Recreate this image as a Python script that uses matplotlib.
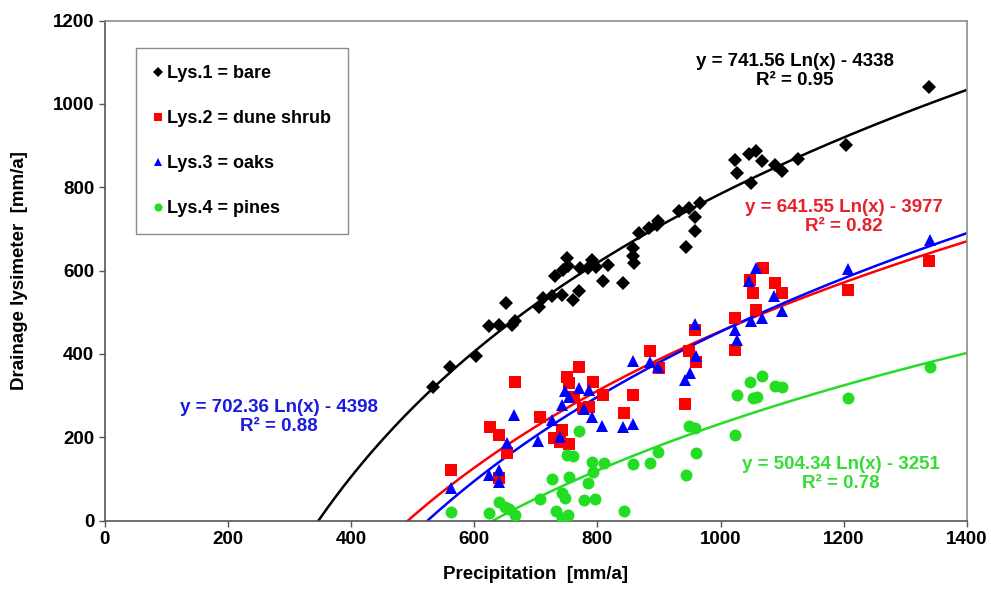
import numpy as np
import matplotlib
matplotlib.use("Agg")
import matplotlib.pyplot as plt

plt.rcParams['font.family'] = ['Liberation Sans', 'DejaVu Sans']
plt.rcParams['font.weight'] = 'bold'

# ---- data ----
bare_x = [533, 560, 603, 624, 640, 652, 662, 666, 705, 711, 727, 731, 743, 744, 750, 752,
          761, 770, 771, 785, 792, 798, 809, 817, 842, 857, 857, 859, 868, 884, 896, 898,
          933, 944, 949, 958, 958, 966, 1023, 1026, 1046, 1057, 1068, 1050, 1088, 1099,
          1126, 1204, 1339]
bare_y = [322, 368, 395, 466, 470, 522, 470, 478, 512, 534, 538, 586, 542, 602, 630, 610,
          530, 551, 606, 606, 626, 608, 574, 614, 571, 654, 635, 618, 690, 702, 710, 718,
          744, 656, 750, 728, 694, 763, 865, 834, 880, 886, 864, 811, 854, 838,
          867, 902, 1041]

shrub_x = [562, 625, 640, 653, 640, 666, 707, 730, 739, 743, 754, 750, 754, 770, 762, 777,
           787, 793, 809, 843, 857, 885, 900, 943, 949, 958, 960, 1023, 1023, 1047, 1052,
           1057, 1069, 1088, 1100, 1207, 1339]
shrub_y = [122, 226, 206, 162, 102, 334, 248, 198, 190, 218, 184, 346, 330, 368, 296, 270,
           272, 334, 302, 259, 302, 406, 366, 280, 406, 458, 382, 486, 410, 578, 547,
           506, 606, 570, 546, 554, 622]

oaks_x = [562, 624, 640, 640, 653, 664, 704, 727, 740, 743, 748, 754, 770, 779, 787, 792,
          808, 842, 857, 857, 885, 898, 943, 951, 958, 960, 1023, 1027, 1046, 1050, 1058,
          1068, 1086, 1099, 1207, 1340]
oaks_y = [78, 110, 122, 94, 187, 254, 192, 242, 202, 278, 312, 296, 318, 268, 314, 250,
          227, 224, 232, 384, 382, 370, 338, 355, 472, 395, 458, 434, 574, 478, 606,
          486, 539, 502, 605, 674]

pines_x = [562, 624, 640, 650, 657, 666, 707, 727, 733, 742, 743, 747, 752, 754, 751, 761,
           770, 778, 785, 792, 793, 796, 810, 843, 857, 886, 898, 944, 949, 958, 960, 1024,
           1026, 1047, 1052, 1059, 1068, 1088, 1099, 1207, 1340]
pines_y = [22, 19, 46, 32, 27, 14, 51, 99, 24, 6, 67, 54, 14, 104, 158, 155,
           216, 50, 91, 142, 118, 51, 139, 24, 137, 139, 166, 110, 227, 222, 163, 206,
           302, 334, 294, 296, 347, 324, 320, 294, 368]

labels = ['Lys.1 = bare', 'Lys.2 = dune shrub', 'Lys.3 = oaks', 'Lys.4 = pines']
slopes = [741.56, 641.55, 702.36, 504.34]
intercepts = [-4338, -3977, -4398, -3251]
r2 = ['0.95', '0.82', '0.88', '0.78']

colors = ['#000000', '#FF0000', '#0000FF', '#22DD22']
text_colors = ['#000000', '#E8202A', '#1A1AE0', '#33DD33']
markers = ['D', 's', '^', 'o']
msizes = [7.2, 8, 8.6, 8.6]

xs = [bare_x, shrub_x, oaks_x, pines_x]
ys = [bare_y, shrub_y, oaks_y, pines_y]

fig = plt.figure(figsize=(9.91, 5.90), dpi=100)
ax = fig.add_axes([0.1055, 0.1175, 0.8703, 0.8475])

handles = []
for i in range(4):
    h, = ax.plot(xs[i], ys[i], linestyle='none', marker=markers[i], color=colors[i],
                 markersize=msizes[i], markeredgewidth=0, label=labels[i], zorder=3)
    handles.append(h)
    x0 = np.exp(-intercepts[i] / slopes[i])
    xx = np.linspace(x0, 1400, 400)
    ax.plot(xx, slopes[i] * np.log(xx) + intercepts[i], color=colors[i], lw=1.8, zorder=2)

ax.set_xlim(0, 1400)
ax.set_ylim(0, 1200)
ax.set_xticks(range(0, 1401, 200))
ax.set_yticks(range(0, 1201, 200))
for s in ax.spines.values():
    s.set_color('#8c8c8c')
    s.set_linewidth(1.2)
ax.spines['bottom'].set_color('#555555')
ax.spines['left'].set_color('#555555')
ax.tick_params(direction='out', length=4, width=1, color='#555555', labelsize=13.5)
for lab in ax.get_xticklabels() + ax.get_yticklabels():
    lab.set_fontweight('bold')

ax.set_xlabel('Precipitation  [mm/a]', fontsize=13.5, fontweight='bold', labelpad=13)
ax.set_ylabel('Drainage lysimeter  [mm/a]', fontsize=13.5, fontweight='bold', labelpad=18)

leg = ax.legend(handles=handles, loc='upper left', bbox_to_anchor=(0.037, 0.945),
                fontsize=13, frameon=True, fancybox=False, framealpha=1,
                edgecolor='#8c8c8c', handlelength=0.5, handletextpad=0.25,
                labelspacing=1.55, borderpad=0.95, borderaxespad=0.0, markerscale=0.68)
leg.get_frame().set_linewidth(1.0)
for t in leg.get_texts():
    t.set_fontweight('bold')

# equation annotations (x in data coords, y in data coords)
eq_pos = [(1120, 1079), (1200, 728), (283, 249), (1195, 112)]
for i in range(4):
    x, y = eq_pos[i]
    ax.text(x, y, f'y = {slopes[i]:.2f} Ln(x) - {-intercepts[i]}\nR² = {r2[i]}',
            color=text_colors[i], fontsize=13.5, fontweight='bold', ha='center',
            va='center', linespacing=1.15, zorder=4)

fig.savefig('out.png', dpi=100)
